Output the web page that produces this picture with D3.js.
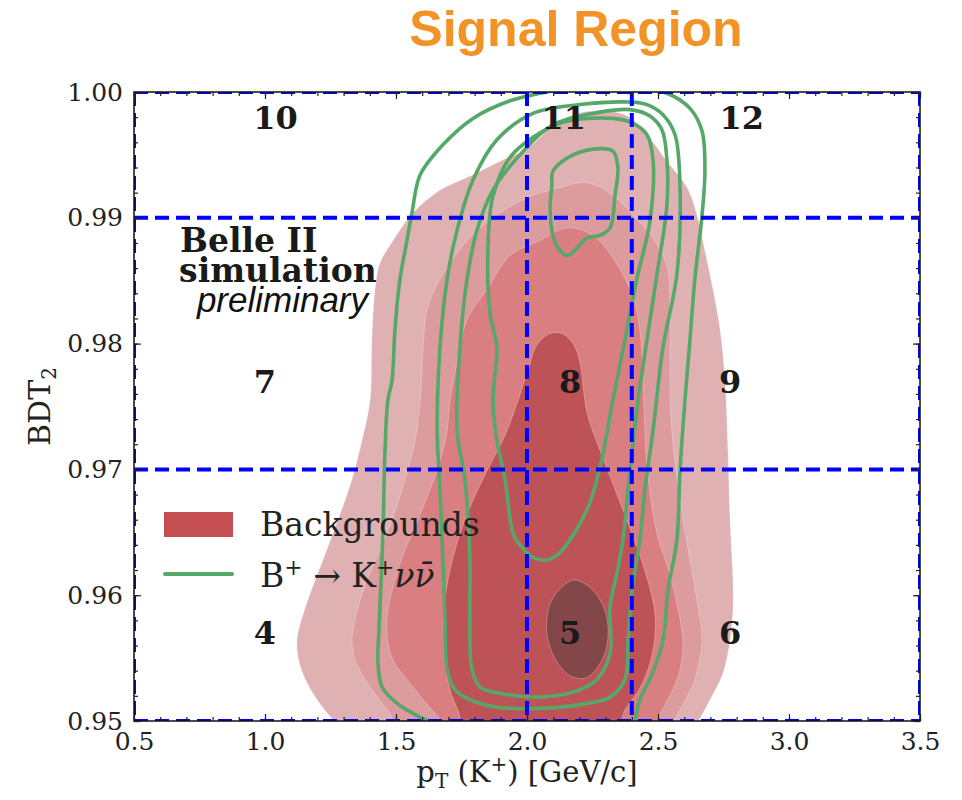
<!DOCTYPE html>
<html>
<head>
<meta charset="utf-8">
<script src="https://cdn.jsdelivr.net/npm/d3@7"></script>
<style>
body { margin: 0; background: #fff; }
.tickLabel text { font-family: "DejaVu Serif", serif; font-size: 25px; fill: #222; }
.regionLabel { font-family: "DejaVu Serif", serif; font-weight: bold; font-size: 32px; fill: #1a1a1a; }
.axisTitle { font-family: "DejaVu Serif", serif; fill: #222; }
</style>
</head>
<body>
<svg id="chart" width="962" height="800"></svg>
<script>
// axis ranges and the cut values that split the plane in 12 regions
var xDomain = [0.5, 3.5];
var yDomain = [0.95, 1.00];
var xMajorTicks = [0.5, 1.0, 1.5, 2.0, 2.5, 3.0, 3.5];
var yMajorTicks = [0.95, 0.96, 0.97, 0.98, 0.99, 1.00];
var xCuts = [2.0, 2.4];
var yCuts = [0.97, 0.99];
var regionNames = ["4", "5", "6", "7", "8", "9", "10", "11", "12"];

// background density, filled contour levels (pT, BDT2), outer to inner
var bkgLevel1 = [[1.305,0.9493],[1.260,0.9501],[1.183,0.9522],[1.134,0.9544],[1.122,0.9564],[1.160,0.9594],
	[1.221,0.9628],[1.279,0.9660],[1.332,0.9692],[1.370,0.9723],[1.401,0.9755],[1.408,0.9803],[1.420,0.9843],
	[1.439,0.9864],[1.489,0.9882],[1.565,0.9904],[1.668,0.9922],[1.771,0.9932],[1.897,0.9945],[2.000,0.9955],
	[2.088,0.9971],[2.176,0.9982],[2.279,0.9985],[2.382,0.9981],[2.458,0.9966],[2.534,0.9945],[2.611,0.9924],
	[2.649,0.9902],[2.679,0.9874],[2.710,0.9843],[2.737,0.9811],[2.756,0.9771],[2.767,0.9715],[2.775,0.9660],
	[2.786,0.9612],[2.786,0.9588],[2.775,0.9564],[2.748,0.9538],[2.699,0.9517],[2.653,0.9499],[2.641,0.9493]];
var bkgLevel2 = [[1.515,0.9493],[1.477,0.9506],[1.401,0.9527],[1.344,0.9548],[1.332,0.9564],[1.347,0.9584],
	[1.382,0.9608],[1.431,0.9632],[1.485,0.9660],[1.534,0.9692],[1.573,0.9723],[1.592,0.9755],[1.603,0.9795],
	[1.618,0.9827],[1.657,0.9847],[1.706,0.9864],[1.771,0.9882],[1.870,0.9900],[2.000,0.9916],[2.126,0.9924],
	[2.229,0.9928],[2.328,0.9918],[2.405,0.9902],[2.481,0.9884],[2.534,0.9862],[2.546,0.9835],[2.546,0.9771],
	[2.553,0.9731],[2.584,0.9676],[2.622,0.9628],[2.649,0.9596],[2.668,0.9564],[2.641,0.9533],[2.595,0.9513],
	[2.557,0.9499],[2.546,0.9493]];
var bkgLevel3 = [[1.687,0.9493],[1.668,0.9501],[1.603,0.9517],[1.542,0.9533],[1.489,0.9548],[1.466,0.9567],
	[1.469,0.9588],[1.496,0.9612],[1.534,0.9636],[1.584,0.9660],[1.630,0.9684],[1.668,0.9707],[1.695,0.9731],
	[1.706,0.9755],[1.733,0.9785],[1.771,0.9819],[1.847,0.9843],[1.935,0.9870],[2.050,0.9882],[2.153,0.9892],
	[2.252,0.9886],[2.328,0.9868],[2.405,0.9837],[2.431,0.9811],[2.443,0.9771],[2.450,0.9731],[2.458,0.9702],
	[2.496,0.9649],[2.546,0.9616],[2.595,0.9564],[2.584,0.9541],[2.557,0.9525],[2.527,0.9513],[2.496,0.9499],
	[2.489,0.9493]];
var bkgLevel4 = [[1.744,0.9493],[1.744,0.9503],[1.706,0.9525],[1.683,0.9556],[1.683,0.9588],[1.706,0.9620],
	[1.763,0.9660],[1.840,0.9696],[1.916,0.9727],[1.966,0.9755],[2.004,0.9779],[2.038,0.9799],[2.088,0.9808],
	[2.134,0.9808],[2.176,0.9800],[2.202,0.9785],[2.229,0.9745],[2.279,0.9715],[2.366,0.9668],[2.443,0.9624],
	[2.489,0.9584],[2.477,0.9552],[2.431,0.9526],[2.374,0.9509],[2.336,0.9493]];
var bkgLevel5 = [[2.176,0.9612],[2.241,0.9606],[2.290,0.9592],[2.309,0.9576],[2.301,0.9556],[2.267,0.9542],
	[2.221,0.9534],[2.164,0.9536],[2.114,0.9547],[2.080,0.9564],[2.076,0.9582],[2.099,0.9598]];

// signal B+ -> K+ nu nubar, contour lines, outer to inner
var sigLevel1 = [[1.668,0.9489],[1.630,0.9499],[1.592,0.9503],[1.504,0.9514],[1.447,0.9527],[1.431,0.9548],
	[1.435,0.9572],[1.450,0.9649],[1.458,0.9715],[1.469,0.9755],[1.485,0.9771],[1.496,0.9811],[1.515,0.9851],
	[1.542,0.9882],[1.561,0.9904],[1.592,0.9934],[1.679,0.9958],[1.794,0.9979],[1.935,0.9993],[2.050,0.9999],
	[2.202,1.0004],[2.393,1.0004],[2.534,0.9999],[2.622,0.9987],[2.668,0.9969],[2.679,0.9937],[2.668,0.9902],
	[2.641,0.9852],[2.622,0.9803],[2.603,0.9755],[2.584,0.9699],[2.572,0.9644],[2.538,0.9604],[2.519,0.9564],
	[2.477,0.9537],[2.431,0.9517],[2.412,0.9499],[2.401,0.9489]];
var sigLevel2 = [[1.657,0.9731],[1.668,0.9797],[1.695,0.9851],[1.733,0.9890],[1.794,0.9930],[1.885,0.9962],
	[2.023,0.9983],[2.202,0.9990],[2.393,0.9992],[2.458,0.9990],[2.519,0.9982],[2.565,0.9966],[2.584,0.9924],
	[2.572,0.9855],[2.519,0.9797],[2.481,0.9731],[2.450,0.9684],[2.431,0.9644],[2.401,0.9604],[2.386,0.9564],
	[2.374,0.9533],[2.317,0.9519],[2.202,0.9513],[2.050,0.9510],[1.885,0.9511],[1.782,0.9517],[1.725,0.9525],
	[1.695,0.9541],[1.687,0.9580],[1.679,0.9628],[1.668,0.9684]];
var sigLevel3 = [[1.733,0.9731],[1.744,0.9797],[1.771,0.9851],[1.809,0.9890],[1.870,0.9922],[1.973,0.9950],
	[2.099,0.9974],[2.279,0.9984],[2.393,0.9986],[2.469,0.9981],[2.515,0.9970],[2.534,0.9946],[2.534,0.9910],
	[2.496,0.9855],[2.458,0.9803],[2.424,0.9755],[2.393,0.9699],[2.366,0.9644],[2.344,0.9618],[2.317,0.9591],
	[2.317,0.9554],[2.267,0.9533],[2.176,0.9523],[2.050,0.9519],[1.897,0.9522],[1.821,0.9527],[1.790,0.9541],
	[1.782,0.9580],[1.782,0.9628],[1.763,0.9692]];
var sigLevel4 = [[1.870,0.9755],[1.885,0.9797],[1.859,0.9824],[1.851,0.9877],[1.870,0.9917],[1.935,0.9948],
	[2.023,0.9964],[2.137,0.9976],[2.328,0.9979],[2.405,0.9975],[2.458,0.9966],[2.481,0.9946],[2.469,0.9897],
	[2.420,0.9852],[2.374,0.9803],[2.328,0.9755],[2.279,0.9702],[2.229,0.9668],[2.126,0.9634],[2.076,0.9628],
	[2.023,0.9630],[1.973,0.9640],[1.947,0.9649],[1.916,0.9692],[1.885,0.9723]];
var sigLevel5 = [[2.099,0.9937],[2.176,0.9950],[2.279,0.9955],[2.328,0.9953],[2.347,0.9940],[2.336,0.9918],
	[2.317,0.9892],[2.279,0.9886],[2.229,0.9884],[2.191,0.9876],[2.156,0.9870],[2.126,0.9874],[2.099,0.9886],
	[2.088,0.9908],[2.095,0.9926]];

var bkgLevels = [bkgLevel1, bkgLevel2, bkgLevel3, bkgLevel4, bkgLevel5];
var sigLevels = [sigLevel1, sigLevel2, sigLevel3, sigLevel4, sigLevel5];

function drawChart(){
	"use strict";
	var dimensions = {top: 92, right: 42, bottom: 79, left: 134},
	width = 962 - dimensions.left - dimensions.right,
	height = 800 - dimensions.top - dimensions.bottom;

	var bkgColors = ["#dfb1b3", "#dc9b9d", "#d97f81", "#bd5356", "#83474a"];
	var sigColor = "#55a868";
	var cutColor = "#0000ff";

	var svg = d3.select("#chart");
	var g = svg.append("g")
		.attr("transform", "translate(" + dimensions.left + "," + dimensions.top + ")");

	var x = d3.scaleLinear().domain(xDomain).range([0, width]);
	var y = d3.scaleLinear().domain(yDomain).range([height, 0]);

	g.append("clipPath").attr("id", "plotClip")
		.append("rect").attr("width", width).attr("height", height);

	var plot = g.append("g").attr("clip-path", "url(#plotClip)");

	var contour = d3.line()
		.x(function(d){ return x(d[0]); })
		.y(function(d){ return y(d[1]); })
		.curve(d3.curveCatmullRomClosed.alpha(0.5));

	// filled background levels
	plot.selectAll(".bkg")
		.data(bkgLevels)
		.enter().append("path")
		.attr("class", "bkg")
		.attr("d", contour)
		.style("fill", function(d, i){ return bkgColors[i]; })
		.style("stroke", "#fff")
		.style("stroke-opacity", 0.35)
		.style("stroke-width", 0.8);

	// signal contour lines
	plot.selectAll(".sig")
		.data(sigLevels)
		.enter().append("path")
		.attr("class", "sig")
		.attr("d", contour)
		.style("fill", "none")
		.style("stroke", sigColor)
		.style("stroke-width", 3.6)
		.style("stroke-linejoin", "round");

	// region boundaries, dashed blue (border included)
	var vLines = [xDomain[0]].concat(xCuts, [xDomain[1]]);
	var hLines = [yDomain[0]].concat(yCuts, [yDomain[1]]);
	plot.selectAll(".vcut")
		.data(vLines)
		.enter().append("line")
		.attr("x1", function(d){ return x(d); })
		.attr("x2", function(d){ return x(d); })
		.attr("y1", 0).attr("y2", height)
		.style("stroke", cutColor).style("stroke-width", 4)
		.style("stroke-dasharray", "14,7");
	plot.selectAll(".hcut")
		.data(hLines)
		.enter().append("line")
		.attr("y1", function(d){ return y(d); })
		.attr("y2", function(d){ return y(d); })
		.attr("x1", 0).attr("x2", width)
		.style("stroke", cutColor).style("stroke-width", 4)
		.style("stroke-dasharray", "14,7");

	// frame
	g.append("rect")
		.attr("width", width).attr("height", height)
		.style("fill", "none").style("stroke", "#111").style("stroke-width", 1.5);

	appendTicks(g, x, y, width, height);

	// region numbers, placed by hand like in the original
	var regionPos = [[1.0, 0.957], [2.165, 0.957], [2.775, 0.957],
		[1.0, 0.977], [2.165, 0.977], [2.775, 0.977],
		[1.04, 0.998], [2.14, 0.998], [2.82, 0.998]];
	g.selectAll(".regionLabel")
		.data(regionNames)
		.enter().append("text")
		.attr("class", "regionLabel")
		.attr("x", function(d, i){ return x(regionPos[i][0]); })
		.attr("y", function(d, i){ return y(regionPos[i][1]); })
		.attr("dy", "0.36em")
		.attr("text-anchor", "middle")
		.text(function(d){ return d; });

	// experiment tag
	g.append("text").attr("class", "regionLabel")
		.attr("x", x(0.676)).attr("y", y(0.9873)).style("font-size", "33px")
		.text("Belle II");
	g.append("text").attr("class", "regionLabel")
		.attr("x", x(0.672)).attr("y", y(0.9849)).style("font-size", "33px")
		.text("simulation");
	g.append("text")
		.attr("x", x(0.74)).attr("y", y(0.98255))
		.style("font-family", "'Liberation Sans', Arial, sans-serif")
		.style("font-style", "italic").style("font-size", "35px").style("fill", "#111")
		.text("preliminary");

	appendLegend(g, bkgColors, sigColor);

	// axis titles
	var xt = svg.append("text").attr("class", "axisTitle")
		.attr("x", dimensions.left + width/2).attr("y", 782)
		.attr("text-anchor", "middle").style("font-size", "29px");
	xt.append("tspan").text("p");
	xt.append("tspan").attr("dy", 6).style("font-size", "20px").text("T");
	xt.append("tspan").attr("dy", -6).text(" (K");
	xt.append("tspan").attr("dy", -11).style("font-size", "20px").text("+");
	xt.append("tspan").attr("dy", 11).text(") [GeV/c]");

	var yt = svg.append("text").attr("class", "axisTitle")
		.attr("transform", "translate(50," + (dimensions.top + height/2) + ") rotate(-90)")
		.attr("text-anchor", "middle").style("font-size", "30px");
	yt.append("tspan").text("BDT");
	yt.append("tspan").attr("dy", 6).style("font-size", "20px").text("2");

	// title
	svg.append("text")
		.attr("x", 576).attr("y", 46)
		.attr("text-anchor", "middle")
		.style("font-family", "'Liberation Sans', Arial, sans-serif")
		.style("font-weight", "bold").style("font-size", "50px")
		.style("fill", "#f39325")
		.text("Signal Region");
}

function appendTicks(g, x, y, width, height){
	"use strict";
	var xMinor = d3.range(5, 36).map(function(d){ return d / 10; });
	var yMinor = d3.range(0, 26).map(function(d){ return 0.95 + d * 0.002; });
	var fmtX = d3.format(".1f"), fmtY = d3.format(".2f");

	function style(sel){
		sel.select(".domain").remove();
		sel.selectAll("line").style("stroke", "#222").style("stroke-width", 1.2);
	}

	// minor ticks, all four sides, pointing in
	g.append("g").attr("transform", "translate(0," + height + ")")
		.call(d3.axisBottom(x).tickValues(xMinor).tickSize(-4).tickFormat("")).call(style);
	g.append("g")
		.call(d3.axisTop(x).tickValues(xMinor).tickSize(-4).tickFormat("")).call(style);
	g.append("g")
		.call(d3.axisLeft(y).tickValues(yMinor).tickSize(-4).tickFormat("")).call(style);
	g.append("g").attr("transform", "translate(" + width + ",0)")
		.call(d3.axisRight(y).tickValues(yMinor).tickSize(-4).tickFormat("")).call(style);

	// major ticks with labels on bottom and left
	g.append("g").attr("class", "tickLabel").attr("transform", "translate(0," + height + ")")
		.call(d3.axisBottom(x).tickValues(xMajorTicks).tickSize(-7).tickPadding(11).tickFormat(fmtX)).call(style);
	g.append("g").attr("class", "tickLabel")
		.call(d3.axisLeft(y).tickValues(yMajorTicks).tickSize(-7).tickPadding(11).tickFormat(fmtY)).call(style);
	g.append("g")
		.call(d3.axisTop(x).tickValues(xMajorTicks).tickSize(-7).tickFormat("")).call(style);
	g.append("g").attr("transform", "translate(" + width + ",0)")
		.call(d3.axisRight(y).tickValues(yMajorTicks).tickSize(-7).tickFormat("")).call(style);
}

function appendLegend(g, bkgColors, sigColor){
	"use strict";
	var lg = g.append("g").attr("transform", "translate(30,420)");
	lg.append("rect")
		.attr("x", 0).attr("y", 0).attr("width", 69).attr("height", 25)
		.style("fill", "#c44e52");
	lg.append("text")
		.attr("x", 96).attr("y", 24)
		.style("font-family", "'DejaVu Serif', serif").style("font-size", "33px").style("fill", "#222")
		.text("Backgrounds");
	lg.append("line")
		.attr("x1", 1).attr("x2", 68).attr("y1", 62).attr("y2", 62)
		.style("stroke", sigColor).style("stroke-width", 4).style("stroke-linecap", "round");
	var t = lg.append("text")
		.attr("x", 96).attr("y", 75)
		.style("font-family", "'DejaVu Serif', serif").style("font-size", "33px").style("fill", "#222");
	t.append("tspan").text("B");
	t.append("tspan").attr("dy", -12).style("font-size", "22px").text("+");
	t.append("tspan").attr("dy", 12).text(" \u2192 K");
	t.append("tspan").attr("dy", -12).style("font-size", "22px").text("+");
	t.append("tspan").attr("dy", 12).style("font-style", "italic").text("\u03bd\u03bd\u0304");
}

drawChart();
</script>
</body>
</html>
